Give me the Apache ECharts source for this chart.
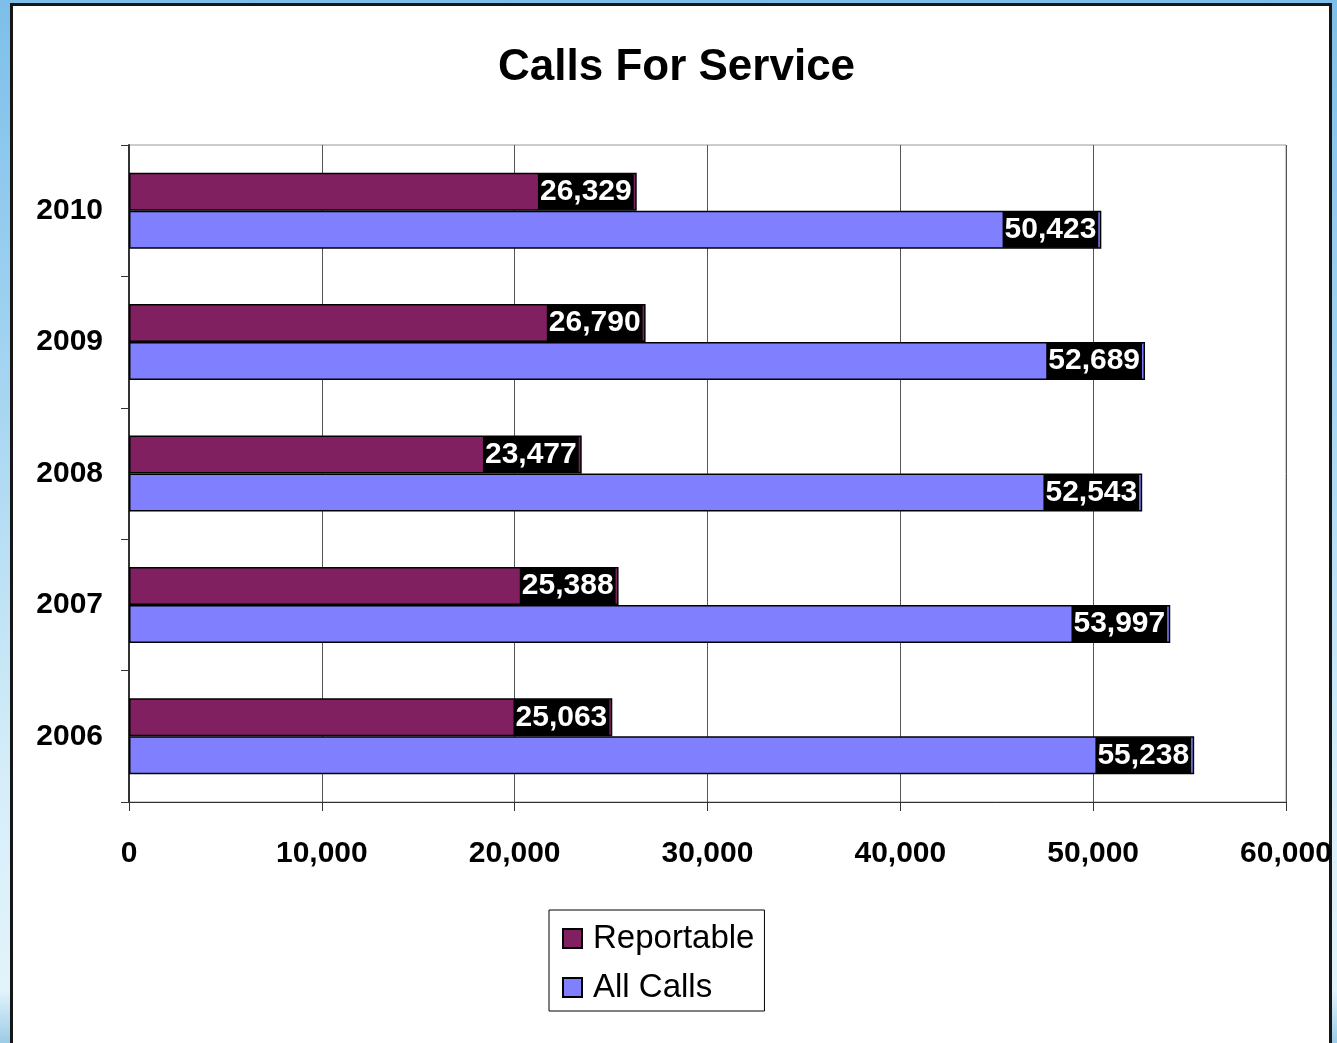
<!DOCTYPE html>
<html>
<head>
<meta charset="utf-8">
<script src="https://cdn.jsdelivr.net/npm/echarts@6/dist/echarts.min.js"></script>
<style>
  html, body { margin:0; padding:0; width:1337px; height:1043px; overflow:hidden; }
  body { background: linear-gradient(180deg, #7dbfea 0%, #a9d7f2 40%, #d6eef9 75%, #e2f3fb 95%, #9ccbe6 100%); position:relative; }
  #panel { position:absolute; left:10px; top:3px; width:1322px; height:1060px; background:#fff; border:3px solid #161616; box-sizing:border-box; }
  #chart { position:absolute; left:0; top:0; width:1337px; height:1043px; }
</style>
</head>
<body>
<div id="panel"></div>
<div id="chart"></div>
<script>
const categories = ['2006', '2007', '2008', '2009', '2010'];
const reportable = [25063, 25388, 23477, 26790, 26329];
const allCalls = [55238, 53997, 52543, 52689, 50423];
const seriesNames = ['Reportable', 'All Calls'];

const chart = echarts.init(document.getElementById('chart'), null, { renderer: 'canvas' });
const FONT = 'Liberation Sans, Arial, Helvetica, sans-serif';
const fmt = v => v.toLocaleString('en-US');

const labelCfg = {
  show: true,
  position: 'insideRight',
  distance: 3,
  color: '#fff',
  backgroundColor: '#000',
  fontFamily: FONT,
  fontWeight: 'bold',
  fontSize: 30,
  padding: [4, 2, 2, 2],
  formatter: p => fmt(p.value)
};

chart.setOption({
  backgroundColor: 'transparent',
  animation: false,
  title: {
    text: 'Calls For Service',
    left: 493,
    top: 41,
    textStyle: { fontFamily: FONT, fontWeight: 'bold', fontSize: 44, color: '#000' }
  },
  legend: {
    orient: 'vertical',
    left: 549,
    top: 910,
    padding: [12, 10, 7, 13],
    itemGap: 16,
    itemWidth: 19,
    itemHeight: 19,
    icon: 'rect',
    borderColor: '#000',
    borderWidth: 1,
    backgroundColor: '#fff',
    textStyle: { fontFamily: FONT, fontSize: 33, color: '#000', padding: [0, 0, 0, 6] },
    data: seriesNames
  },
  grid: {
    left: 129, top: 145, width: 1157, height: 657,
    show: true, borderColor: '#999', borderWidth: 1, backgroundColor: 'transparent',
    containLabel: false
  },
  xAxis: {
    type: 'value',
    min: 0, max: 60000, interval: 10000,
    axisLine: { show: true, lineStyle: { color: '#333', width: 1 } },
    axisTick: { show: true, length: 9, lineStyle: { color: '#333' } },
    splitLine: { show: true, lineStyle: { color: '#555', width: 1 } },
    axisLabel: {
      fontFamily: FONT, fontWeight: 'bold', fontSize: 30, color: '#000', margin: 37,
      formatter: v => fmt(v)
    }
  },
  yAxis: {
    type: 'category',
    data: categories,
    axisLine: { show: true, lineStyle: { color: '#333', width: 2 } },
    axisTick: { show: true, length: 8, lineStyle: { color: '#333' } },
    axisLabel: { fontFamily: FONT, fontWeight: 'bold', fontSize: 30, color: '#000', margin: 26 },
    splitLine: { show: false }
  },
  series: [
    {
      name: seriesNames[0], type: 'bar', data: reportable,
      barWidth: 38, barGap: '0%',
      itemStyle: { color: '#802060', borderColor: '#000', borderWidth: 1.5 },
      label: labelCfg
    },
    {
      name: seriesNames[1], type: 'bar', data: allCalls,
      barWidth: 38, barGap: '0%',
      itemStyle: { color: '#8080ff', borderColor: '#000', borderWidth: 1.5 },
      label: labelCfg
    }
  ]
});
</script>
</body>
</html>
